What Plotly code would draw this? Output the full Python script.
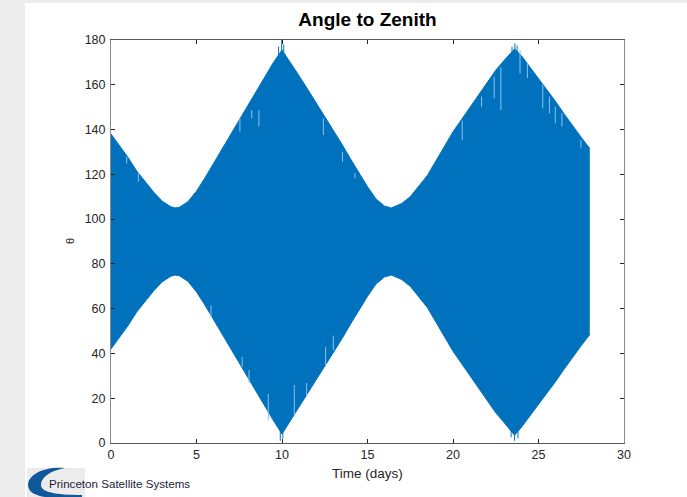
import plotly.graph_objects as go

# ---- data ----
t_env = [0, 0.5, 1, 1.5, 2, 2.5, 3, 3.5, 3.75, 4, 4.5, 5, 5.5, 6, 6.5, 7, 7.5, 8, 8.5, 9, 9.5, 10,
         10.5, 11, 11.5, 12, 12.5, 13, 13.5, 14, 14.5, 15, 15.5, 16, 16.4, 17, 17.5, 18, 18.5, 19,
         19.5, 20, 20.5, 21, 21.5, 22, 22.5, 23, 23.6, 24, 24.5, 25, 25.5, 26, 26.5, 27, 27.5, 28]
upper = [138, 133, 127.5, 121.5, 116.5, 112, 108, 105.5, 105, 105.3, 107.8, 112.5, 118.5, 125,
         131.5, 138, 144.5, 151, 157.5, 164, 170, 175.5, 170, 164, 158, 152, 146, 140, 133.5, 127,
         120.5, 114.5, 109, 105.8, 105, 107, 110, 114.5, 119.5, 126, 132.5, 139, 144.5, 150, 155.5,
         161, 166.5, 171, 176, 173, 168, 163, 157.5, 152.5, 147, 141.5, 136.5, 131.5]
lower = [42, 47, 52.5, 58.5, 63.5, 68, 72, 74.5, 75, 74.7, 72.2, 67.5, 61.5, 55, 48.5, 42, 35.5,
         29, 22.5, 16, 10, 4, 10, 16, 22, 28, 34, 40, 46.5, 53, 59.5, 65.5, 71, 74.2, 75, 73, 70,
         65.5, 60.5, 54, 47.5, 41, 35.5, 30, 24.5, 19, 13.5, 9, 3.5, 7, 12, 17, 22.5, 27.5, 33,
         38.5, 43.5, 48.5]

# spikes beyond the envelope: time, extreme value
spike_t = [9.8, 9.98, 10.1, 23.45, 23.62, 23.75, 9.9, 10.05, 23.4, 23.6, 23.8]
spike_v = [177, 180, 178, 177, 178.5, 177.5, 1, 2, 2.5, 1, 2]

# light gaps inside the band: time, top value, bottom value
gap_t = [0.92, 1.6, 7.54, 8.23, 8.65, 12.42, 13.54, 14.27, 20.54, 21.67, 22.41, 22.8, 23.92,
         24.35, 25.25, 25.64, 25.98, 26.37, 27.48,
         5.85, 7.67, 8.07, 9.2, 10.72, 11.44, 12.55, 13.0]
gap_top = [127.9, 120.4, 145, 148.7, 148.7, 145, 130, 120.5, 144, 154.7, 163.6, 168, 175.5,
           170, 160, 154.7, 150.2, 147.2, 135.3,
           61.6, 38.5, 32.6, 21.9, 25.9, 26.8, 43, 48]
gap_bot = [124.9, 116.7, 139, 145, 141.3, 137.6, 125.6, 118.2, 135.3, 150.2, 154, 148.7, 165,
           163, 149.5, 147.2, 142.8, 141.3, 131.6,
           56.3, 34, 26.8, 10.3, 11.7, 20.7, 34, 41.5]

x_ticks = [0, 5, 10, 15, 20, 25, 30]
y_ticks = [0, 20, 40, 60, 80, 100, 120, 140, 160, 180]

BLUE = "#0072BD"
W, H = 687, 497
L, R, T, B = 111, 624, 40, 443


def px(xp):
    return (xp - L) / (R - L)


def py(yp):
    return (B - yp) / (B - T)


fig = go.Figure()
fig.add_trace(go.Scatter(x=t_env, y=upper, mode="lines", line=dict(color=BLUE, width=1),
                         hoverinfo="skip", showlegend=False))
fig.add_trace(go.Scatter(x=t_env, y=lower, mode="lines", line=dict(color=BLUE, width=1),
                         fill="tonexty", fillcolor=BLUE, hoverinfo="skip", showlegend=False))

sx, sy = [], []
for t, v in zip(spike_t, spike_v):
    sx += [t, t, None]
    sy += [90, v, None]
fig.add_trace(go.Scatter(x=sx, y=sy, mode="lines", line=dict(color=BLUE, width=1),
                         hoverinfo="skip", showlegend=False))

gx, gy = [], []
for t, a, b in zip(gap_t, gap_top, gap_bot):
    gx += [t, t, None]
    gy += [a, b, None]
fig.add_trace(go.Scatter(x=gx, y=gy, mode="lines", line=dict(color="#8ec0e8", width=1),
                         hoverinfo="skip", showlegend=False))

font = "Liberation Sans, Arial, sans-serif"
axis_common = dict(showgrid=False, zeroline=False, showline=True, mirror="ticks",
                   ticks="inside", ticklen=4, tickcolor="#262626",
                   tickfont=dict(family=font, size=12.5, color="#262626"))
fig.update_layout(
    width=W, height=H,
    margin=dict(l=L, r=W - R, t=T, b=H - B),
    paper_bgcolor="white", plot_bgcolor="white",
    title=dict(text="<b>Angle to Zenith</b>", x=0.5, xref="paper", xanchor="center",
               y=1 - 19 / H, yanchor="middle", font=dict(family=font, size=19, color="black")),
    xaxis=dict(range=[0, 30], tickvals=x_ticks, linecolor="#5a5a5a", **axis_common),
    yaxis=dict(range=[0, 180], tickvals=y_ticks, linecolor="#8a8a8a", ticklabelstandoff=2,
               **axis_common),
)

fig.add_annotation(text="Time (days)", x=0.5, xref="paper", y=py(473), yref="paper",
                   showarrow=False, yanchor="middle",
                   font=dict(family=font, size=13.5, color="#262626"))
fig.add_annotation(text="θ", x=px(62), xref="paper", y=py(241), yref="paper",
                   showarrow=False, textangle=-90, font=dict(family=font, size=11, color="#262626"))

# gray page border strips
fig.add_shape(type="rect", xref="paper", yref="paper", x0=px(0), x1=px(25), y0=py(497), y1=py(0),
              fillcolor="#ececec", line_width=0, layer="below")
fig.add_shape(type="rect", xref="paper", yref="paper", x0=px(0), x1=px(687), y0=py(3), y1=py(0),
              fillcolor="#ececec", line_width=0, layer="below")
# logo box
fig.add_shape(type="rect", xref="paper", yref="paper", x0=px(27), x1=px(85), y0=py(497), y1=py(468),
              fillcolor="#ececec", line_width=0, layer="below")


def P(x, y):
    return f"{px(x):.5f},{py(y):.5f}"


path = ("M " + P(65, 468) + " C " + P(40, 466) + " " + P(24, 478) + " " + P(29, 489) +
        " C " + P(33, 497) + " " + P(50, 499) + " " + P(82, 499) + " L " + P(82, 495) +
        " C " + P(55, 495) + " " + P(41, 492) + " " + P(41, 485) +
        " C " + P(41, 477) + " " + P(50, 471) + " " + P(65, 468) + " Z")
fig.add_shape(type="path", xref="paper", yref="paper", path=path,
              fillcolor="#11589a", line_width=0)
fig.add_annotation(text="Princeton Satellite Systems", x=px(47), xref="paper", y=py(483),
                   yref="paper", xanchor="left", yanchor="middle", showarrow=False,
                   font=dict(family=font, size=11.6, color="#1c1c3c"))

fig.write_html("out.html")
